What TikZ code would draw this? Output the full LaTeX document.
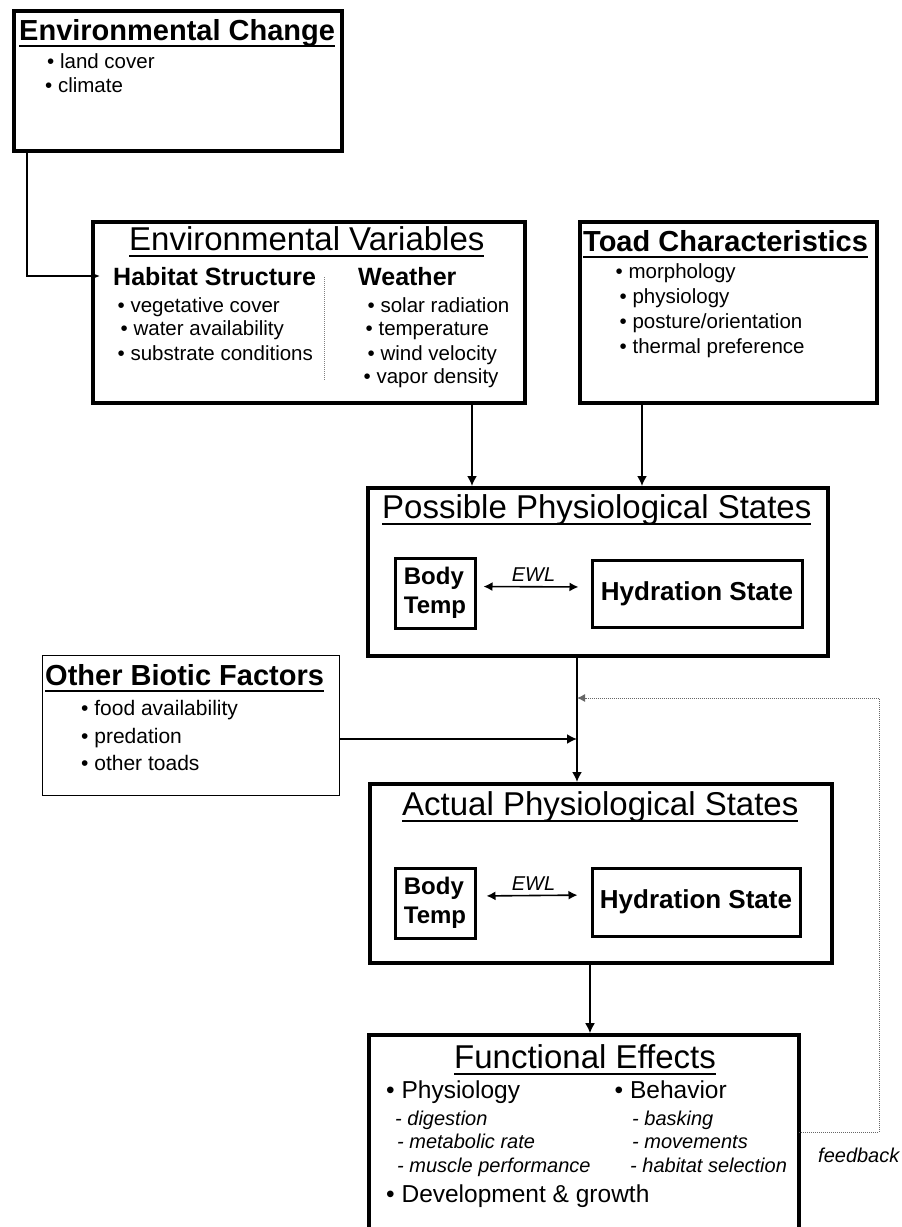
\documentclass[tikz,border=0pt]{standalone}
\usepackage{fontspec}
\setmainfont{Liberation Sans}
\usetikzlibrary{arrows.meta}

\newsavebox\ttlbox
\newcommand\undertitle[1]{\sbox\ttlbox{#1}\rlap{\vrule height -4.5pt depth 6.5pt width \wd\ttlbox}\usebox\ttlbox}

\begin{document}
\begin{tikzpicture}[x=1pt, y=-1pt, >={Latex[length=10pt,width=10pt]},
	box/.style={draw, line width=3.6pt, anchor=north west, inner sep=0},
	thinbox/.style={draw, line width=1.4pt, anchor=north west, inner sep=0},
	subbox/.style={draw, line width=3pt, anchor=north west, inner sep=0, align=left, font=\fontsize{24}{29}\selectfont\bfseries},
	txt/.style={anchor=base west, inner sep=0},
	ttlB/.style={txt, font=\fontsize{29}{34}\selectfont\bfseries},
	ttlR/.style={txt, font=\fontsize{33}{38}\selectfont},
	head/.style={txt, font=\fontsize{25}{30}\selectfont\bfseries},
	item/.style={txt, font=\fontsize{20.5}{24}\selectfont},
	bitem/.style={txt, font=\fontsize{21}{26}\selectfont},
	big/.style={txt, font=\fontsize{24.5}{29}\selectfont},
	sub/.style={txt, font=\fontsize{20}{24}\selectfont\itshape},
	arr/.style={->, line width=1.8pt},
	link/.style={->, >={Latex[length=9pt,width=8pt]}, line width=1.5pt},
	ewl/.style={<->, >={Latex[length=9pt,width=9pt]}, line width=1.6pt},
	fb/.style={->, >={Latex[length=8pt,width=8pt]}, densely dotted, line width=1pt, black!60}]
	\useasboundingbox (0,0) rectangle (902,1227);
	\begin{scope}
		\node[box, minimum width=328, minimum height=140] (envchange) at (12,9) {};
		\node[box, minimum width=432, minimum height=181] (envvar) at (91,220) {};
		\node[box, minimum width=297, minimum height=181] (toad) at (578,220) {};
		\node[box, minimum width=460, minimum height=168] (possible) at (366,486) {};
		\node[thinbox, minimum width=297, minimum height=140] (biotic) at (42,655) {};
		\node[box, minimum width=462, minimum height=179] (actual) at (368,782) {};
		\node[box, draw=none, outer sep=0, minimum width=430, minimum height=192] (effects) at (369,1035) {};
		\draw[line width=3.6pt] (effects.south west) |- (effects.north east) -- (effects.south east); % open at the bottom

		% environmental change
		\node[ttlB] (tchange) at (19,40) {\undertitle{Environmental Change}};
		\node[item] (landcover) at (47,68) {• land cover};
		\node[item] (climate) at (45,92) {• climate};

		% environmental variables
		\node[ttlR] (tvar) at (129,250) {\undertitle{Environmental Variables}};
		\node[head] (habitat) at (113,285) {Habitat Structure};
		\node[item] (vegcover) at (117.5,312) {• vegetative cover};
		\node[item] (water) at (120.5,335) {• water availability};
		\node[item] (substrate) at (117.5,360) {• substrate conditions};
		\node[head] (weather) at (358,285) {Weather};
		\node[item] (solar) at (367.5,312) {• solar radiation};
		\node[item] (temperature) at (365.5,335) {• temperature};
		\node[item] (wind) at (367.5,360) {• wind velocity};
		\node[item] (vapor) at (363.5,383) {• vapor density};
		\draw[densely dotted, line width=1pt, black!50] (324,277) -- (324,380); % divider

		% toad characteristics
		\node[ttlB] (ttoad) at (583,251) {\undertitle{Toad Characteristics}};
		\node[item] (morph) at (615.5,278) {• morphology};
		\node[item] (physio) at (619.5,303) {• physiology};
		\node[item] (posture) at (619.5,328) {• posture/orientation};
		\node[item] (thermal) at (619.5,353) {• thermal preference};

		% possible physiological states
		\node[ttlR] (tpossible) at (382,518) {\undertitle{Possible Physiological States}};
		\node[subbox, minimum width=80, minimum height=70] (temp1) at (393.5,556.5) {Body\\Temp};
		\node[subbox, minimum width=210, minimum height=67, font=\fontsize{26}{31}\selectfont\bfseries] (hydr1) at (590.5,558.5) {Hydration State};
		\draw[ewl, shorten <=7pt, shorten >=12pt] ([yshift=6.5pt]temp1.east) -- ([yshift=6.5pt]hydr1.west) node[midway, above=4pt, inner sep=0, font=\fontsize{20}{24}\selectfont\itshape] (ewl1) {EWL};

		% other biotic factors
		\node[ttlB] (tbiotic) at (45,685) {\undertitle{Other Biotic Factors}};
		\node[bitem] (food) at (81,715) {• food availability};
		\node[bitem] (predation) at (81,743) {• predation};
		\node[bitem] (others) at (81,770) {• other toads};

		% actual physiological states
		\node[ttlR] (tactual) at (402,815) {\undertitle{Actual Physiological States}};
		\node[subbox, minimum width=80, minimum height=70] (temp2) at (393.5,866.5) {Body\\Temp};
		\node[subbox, minimum width=208, minimum height=68, font=\fontsize{26}{31}\selectfont\bfseries] (hydr2) at (590.5,866.5) {Hydration State};
		\draw[ewl, shorten <=10pt, shorten >=13pt] ([yshift=7pt]temp2.east) -- ([yshift=7pt]hydr2.west) node[midway, above=4pt, inner sep=0, font=\fontsize{20}{24}\selectfont\itshape] (ewl2) {EWL};

		% functional effects
		\node[ttlR] (teffects) at (454,1068) {\undertitle{Functional Effects}};
		\node[big] (physiology) at (386,1098) {• Physiology};
		\node[sub] (digestion) at (395,1125) {- digestion};
		\node[sub] (metabolic) at (397,1148) {- metabolic rate};
		\node[sub] (muscle) at (397,1172) {- muscle performance};
		\node[big] (behavior) at (614.5,1098) {• Behavior};
		\node[sub] (basking) at (632,1125) {- basking};
		\node[sub] (movements) at (632,1148) {- movements};
		\node[sub] (selection) at (630,1172) {- habitat selection};
		\node[big] (growth) at (386,1202) {• Development \& growth};
		\node[sub] (feedback) at (818,1162) {feedback};

		% connectors
		\coordinate (habin) at (100,276);
		\coordinate (xenv) at (472,0);
		\coordinate (xtoad) at (642,0);
		\coordinate (xtrunk) at (577,0);
		\coordinate (xeff) at (590,0);
		\coordinate (jbiotic) at (577,739);
		\coordinate (jfeed) at (577,698);
		\coordinate (feedturn) at (879,1132);
		\draw[link] ([xshift=15pt]envchange.south west) |- (habin); % change to habitat
		\draw[arr] (envvar.south -| xenv) -- (possible.north -| xenv); % variables to possible
		\draw[arr] (toad.south -| xtoad) -- (possible.north -| xtoad); % toad to possible
		\draw[arr] (possible.south -| xtrunk) -- (actual.north -| xtrunk); % possible to actual
		\draw[arr] (jbiotic -| biotic.east) -- (jbiotic); % biotic into trunk
		\draw[arr, shorten >=1.8pt] (actual.south -| xeff) -- (effects.north -| xeff); % actual to effects
		\draw[fb] (effects.east |- feedturn) -- (feedturn) |- (jfeed); % feedback loop
	\end{scope}
\end{tikzpicture}
\end{document}
